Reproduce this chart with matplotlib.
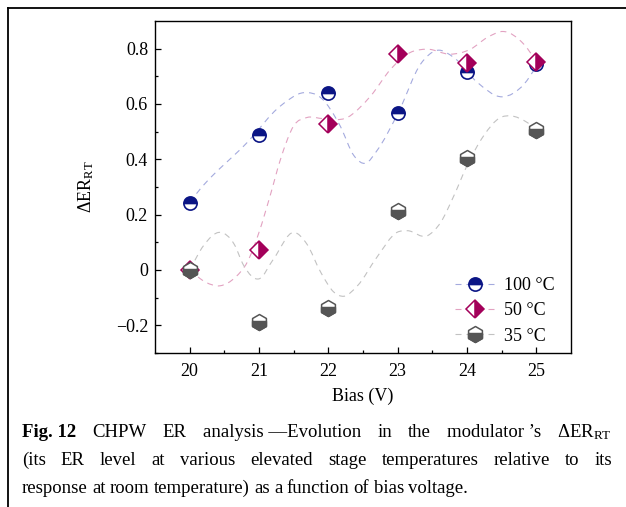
import numpy as np
import matplotlib.pyplot as plt
from matplotlib.path import Path
from matplotlib.patches import PathPatch
from matplotlib.lines import Line2D
from matplotlib.legend_handler import HandlerTuple

plt.rcParams['font.family'] = 'Liberation Serif'
plt.rcParams['mathtext.fontset'] = 'custom'
plt.rcParams['mathtext.rm'] = 'Liberation Serif'
plt.rcParams['mathtext.it'] = 'Liberation Serif:italic'

# measured points
bias = [20, 21, 22, 23, 24, 25]
er_100 = [0.242, 0.487, 0.641, 0.569, 0.714, 0.744]
er_50 = [0.0, 0.073, 0.527, 0.780, 0.747, 0.753]
er_35 = [0.0, -0.189, -0.138, 0.214, 0.405, 0.507]

# smooth guide curves (traced)
curve_100_x = [20.0, 20.15, 20.83, 21.31, 21.65, 21.89, 22.17, 22.37, 22.54, 22.70,
               23.02, 23.33, 23.57, 23.81, 24.15, 24.51, 24.82, 25.0]
curve_100_y = [0.245, 0.292, 0.461, 0.593, 0.641, 0.623, 0.521, 0.413, 0.386, 0.431,
               0.575, 0.744, 0.794, 0.768, 0.678, 0.626, 0.671, 0.735]
curve_50_x = [20.0, 20.23, 20.44, 20.66, 20.83, 21.0, 21.16, 21.31, 21.5, 21.69, 21.93,
              22.27, 22.61, 22.90, 23.18, 23.43, 23.76, 24.05, 24.29, 24.53, 24.82, 25.0]
curve_50_y = [0.0, -0.044, -0.057, -0.026, 0.028, 0.136, 0.268, 0.40, 0.521, 0.551, 0.547,
              0.551, 0.629, 0.726, 0.786, 0.798, 0.78, 0.798, 0.84, 0.862, 0.816, 0.755]
curve_35_x = [20.0, 20.2, 20.44, 20.64, 20.78, 21.0, 21.21, 21.5, 21.69, 21.89, 22.08,
              22.22, 22.42, 22.70, 22.99, 23.14, 23.43, 23.62, 23.81, 24.0, 24.24,
              24.48, 24.63, 24.87, 25.0]
curve_35_y = [0.0, 0.088, 0.136, 0.094, 0.016, -0.032, 0.04, 0.136, 0.094, -0.008, -0.08,
              -0.095, -0.057, 0.046, 0.136, 0.142, 0.124, 0.172, 0.268, 0.377, 0.485,
              0.551, 0.557, 0.533, 0.509]

labels = ['100 °C', '50 °C', '35 °C']
yticks = [-0.2, 0, 0.2, 0.4, 0.6, 0.8]
ytick_labels = ['\u22120.2', '0', '0.2', '0.4', '0.6', '0.8']


def smooth_path(xs, ys):
    # cubic Hermite through the traced points, written as bezier segments
    xs = np.asarray(xs, float)
    ys = np.asarray(ys, float)
    m = np.gradient(ys, xs)
    verts = [(xs[0], ys[0])]
    codes = [Path.MOVETO]
    for i in range(len(xs) - 1):
        h = xs[i + 1] - xs[i]
        verts += [(xs[i] + h / 3, ys[i] + m[i] * h / 3),
                  (xs[i + 1] - h / 3, ys[i + 1] - m[i + 1] * h / 3),
                  (xs[i + 1], ys[i + 1])]
        codes += [Path.CURVE4] * 3
    return Path(verts, codes)


# hexagon marker (point up) and its lower, slightly-more-than-half part
ang = np.deg2rad(90 + 60 * np.arange(7))
hex_full = Path(np.column_stack([np.cos(ang), np.sin(ang)]), closed=True)
c30 = np.cos(np.pi / 6)
hex_low = Path([(-c30, 0.12), (-c30, -0.5), (0, -1), (c30, -0.5), (c30, 0.12), (-c30, 0.12)],
               closed=True)

W, H = 626, 507
fig = plt.figure(figsize=(W / 100, H / 100), dpi=100)
ax = fig.add_axes([155 / W, 1 - 353 / H, 416 / W, 332 / H])

dash = (0, (5.4, 4.5))
c100, l100 = '#0b1585', '#a4aade'
c50, l50 = '#a3005a', '#e2a2c1'
c35, l35 = '#555555', '#c2c2c2'

for cx, cy, light in [(curve_100_x, curve_100_y, l100),
                      (curve_50_x, curve_50_y, l50),
                      (curve_35_x, curve_35_y, l35)]:
    ax.add_patch(PathPatch(smooth_path(cx, cy), fill=False, edgecolor=light,
                           lw=0.8, linestyle=dash, zorder=2))

circ = dict(marker='o', ms=9.5, fillstyle='top', mfc=c100, mfcalt='white', mec=c100, mew=1.2)
diam = dict(marker='D', ms=9.3, fillstyle='right', mfc=c50, mfcalt='white', mec=c50, mew=1.1)
hexw = dict(marker=hex_full, ms=11.5, mfc='white', mec=c35, mew=1.1)
hexd = dict(marker=hex_low, ms=11.5, mfc=c35, mec=c35, mew=1.1)

ax.plot(bias, er_100, ls='none', zorder=3, **circ)
ax.plot(bias, er_50, ls='none', zorder=3, **diam)
ax.plot(bias, er_35, ls='none', zorder=3, **hexw)
ax.plot(bias, er_35, ls='none', zorder=3, **hexd)

ax.set_xlim(19.5, 25.5)
ax.set_ylim(-0.3, 0.9)
ax.set_xticks(bias)
ax.set_xticks(np.arange(20.5, 25, 1.0), minor=True)
ax.set_yticks(yticks)
ax.set_yticklabels(ytick_labels)
ax.set_yticks(np.arange(-0.3, 0.85, 0.2), minor=True)
ax.tick_params(which='both', direction='in', labelsize=13, width=0.9)
ax.tick_params(which='major', length=4)
ax.tick_params(which='minor', length=2.5)
ax.tick_params(axis='x', pad=7)
ax.tick_params(axis='y', pad=5)
for s in ax.spines.values():
    s.set_linewidth(1.0)

ax.set_xlabel('Bias (V)', fontsize=13, labelpad=6)
ax.set_ylabel('\u0394ER$_{\\rm RT}$', fontsize=13, labelpad=14)

handles = [
    Line2D([], [], color=l100, lw=0.8, ls=dash, **circ),
    Line2D([], [], color=l50, lw=0.8, ls=dash, **diam),
    (Line2D([], [], color=l35, lw=0.8, ls=dash, **hexw), Line2D([], [], ls='none', **hexd)),
]
ax.legend(handles, labels, loc='upper left', bbox_to_anchor=(455 / W, 1 - 277 / H),
          bbox_transform=fig.transFigure, frameon=False, fontsize=13,
          handlelength=2.2, handletextpad=0.5, labelspacing=0.46, borderpad=0,
          borderaxespad=0, numpoints=1, handler_map={tuple: HandlerTuple(ndivide=1)})

# border lines of the figure panel
fig.add_artist(Line2D([8 / W, 1], [1 - 7.5 / H, 1 - 7.5 / H], color='black', lw=1.3))
fig.add_artist(Line2D([8 / W, 8 / W], [0, 1 - 7.5 / H], color='black', lw=1.3))

# caption, first two lines justified
renderer = fig.canvas.get_renderer()
cap_size = 13.5


def put_line(words, y, justify=True, x0=22, x1=612):
    texts = []
    for w in words:
        weight = 'bold' if w.startswith('Fig.') else 'normal'
        texts.append(fig.text(0, 1 - y / H, w, fontsize=cap_size, weight=weight,
                              va='baseline', ha='left'))
    widths = [t.get_window_extent(renderer).width for t in texts]
    if justify:
        gap = (x1 - x0 - sum(widths)) / (len(words) - 1)
    else:
        gap = 0.23 * cap_size * 100 / 72
    x = x0
    for t, w in zip(texts, widths):
        t.set_x(x / W)
        x += w + gap


put_line(['Fig. 12', 'CHPW', 'ER', 'analysis \u2014Evolution', 'in', 'the',
          'modulator \u2019s', '\u0394ER$_{\\rm RT}$'], 437)
put_line('(its ER level at various elevated stage temperatures relative to its'.split(), 465)
put_line('response at room temperature) as a function of bias voltage.'.split(), 493,
         justify=False)

fig.savefig('out.png', dpi=100)
